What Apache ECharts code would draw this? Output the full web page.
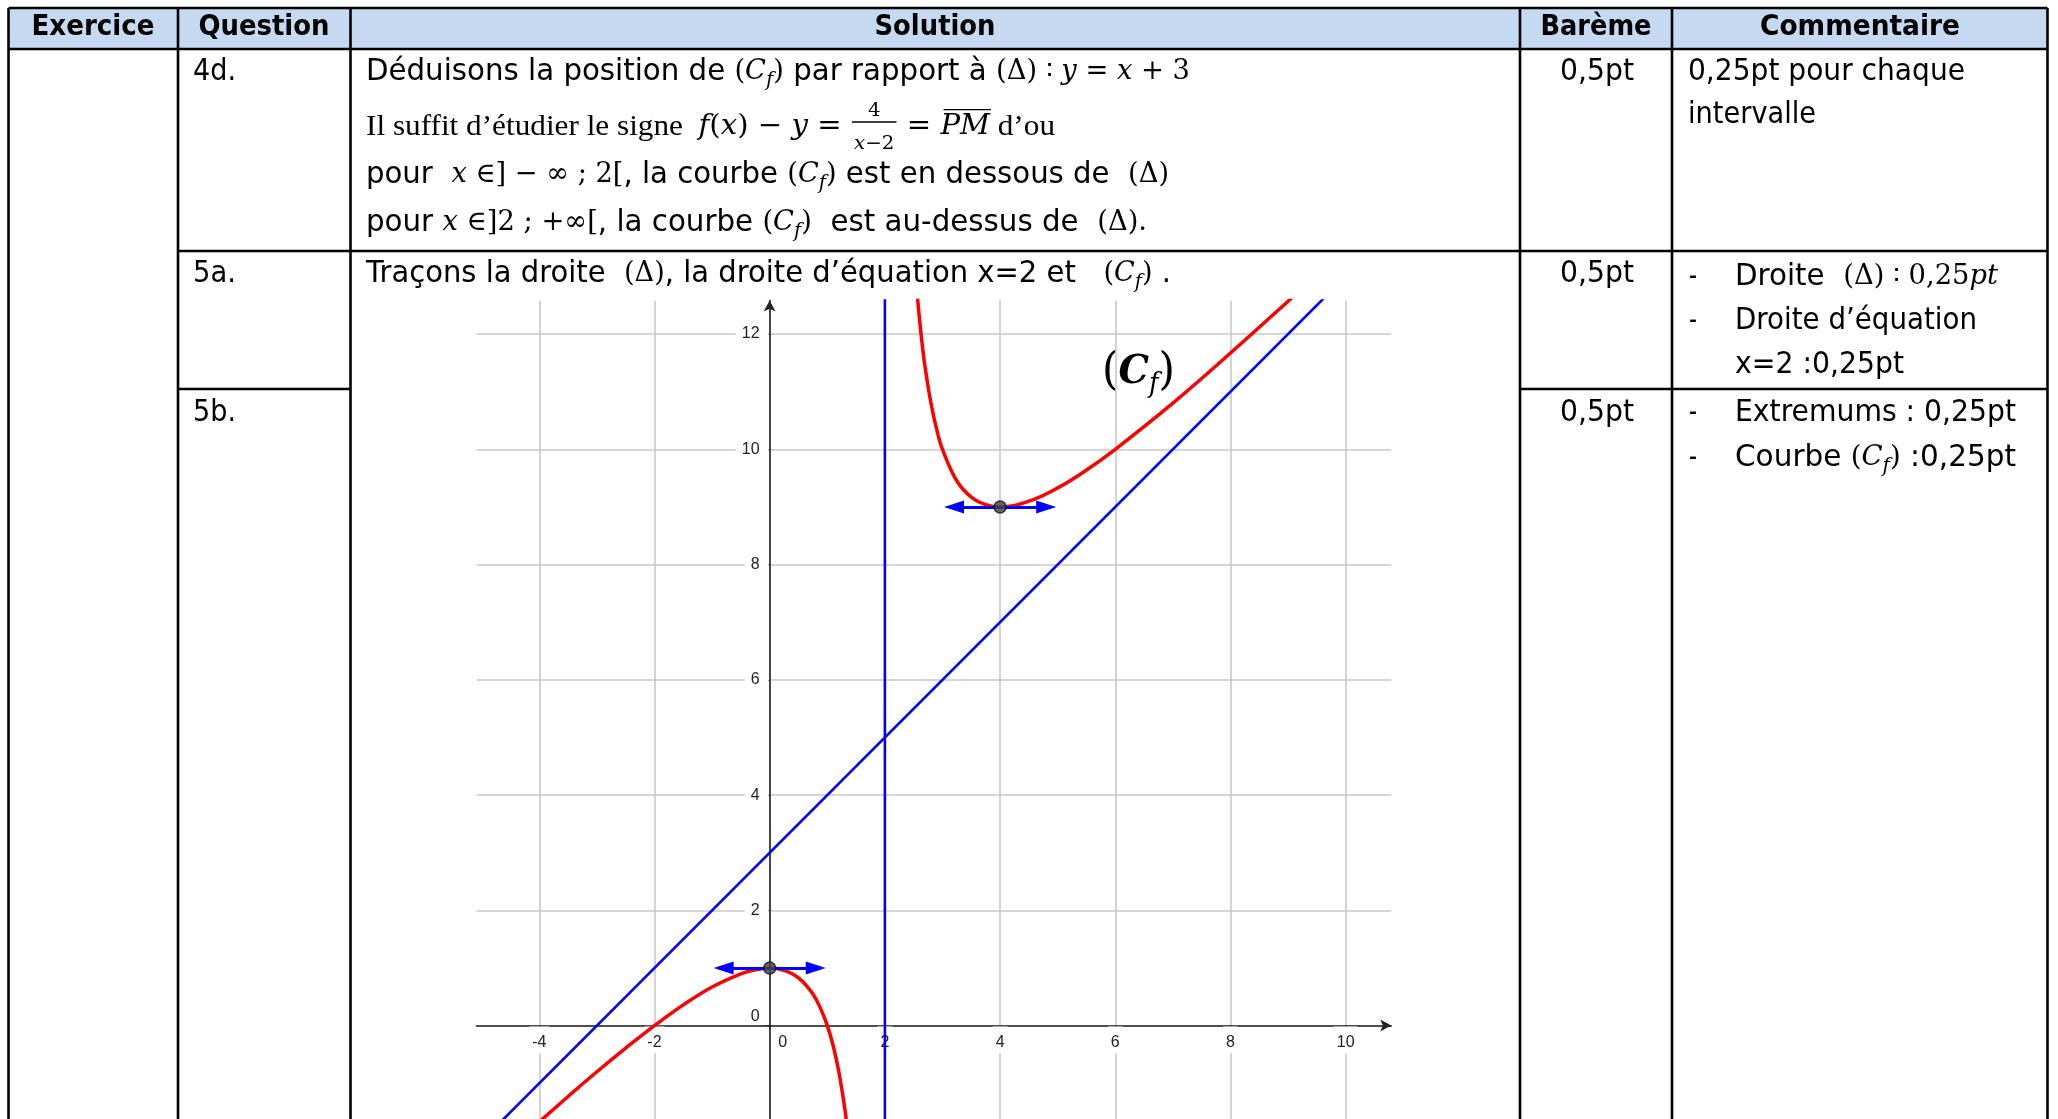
<!DOCTYPE html>
<html><head><meta charset="utf-8">
<script src="https://cdn.jsdelivr.net/npm/echarts/dist/echarts.min.js"></script>
<style>html,body{margin:0;padding:0;background:#fff}#c{width:2058px;height:1119px}</style>
</head><body><div id="c"></div>
<script>
// ---------- data ----------
const xTicks = [-4, -2, 0, 2, 4, 6, 8, 10];
const yTicks = [0, 2, 4, 6, 8, 10, 12];
const xRange = [-5.09, 10.79];
const yRange = [-1.62, 12.58];
// asymptote oblique (Δ) : y = x + 3
const deltaX = [-5, 10];
const deltaY = [-2, 13];
// asymptote verticale x = 2
const vertX = [2, 2];
const vertY = [-2, 13];
// courbe (Cf), branche gauche
const leftX = [-4, -3.5, -3, -2.5, -2, -1.5, -1, -0.5, -0.25, 0, 0.25, 0.5, 0.75, 0.9, 1, 1.1, 1.2, 1.3, 1.35];
const leftY = [-1.67, -1.23, -0.8, -0.39, 0, 0.36, 0.67, 0.9, 0.97, 1, 0.96, 0.83, 0.55, 0.26, 0, -0.34, -0.8, -1.41, -1.8];
// courbe (Cf), branche droite
const rightX = [2.5, 2.55, 2.6, 2.65, 2.7, 2.8, 2.9, 3, 3.25, 3.5, 3.75, 4, 4.5, 5, 5.5, 6, 7, 8, 9, 9.5];
const rightY = [13.5, 12.82, 12.27, 11.8, 11.41, 10.8, 10.34, 10, 9.45, 9.17, 9.04, 9, 9.1, 9.33, 9.64, 10, 10.8, 11.67, 12.57, 13.03];
// extremums and their horizontal tangents
const extX = [0, 4];
const extY = [1, 9];
const tangentHalf = [0.8, 0.8];

// ---------- text helpers ----------
const ctx = document.createElement('canvas').getContext('2d');
const SANS = '"DejaVu Sans"', MATHF = '"DejaVu Serif"', SERIF = '"Liberation Serif"';
function fstr(fam, size, it, bd) { return (it ? 'italic ' : '') + (bd ? 'bold ' : '') + size + 'px ' + fam; }
function meas(t, f) { ctx.font = f; return ctx.measureText(t).width; }
const BODY = 30;
function S(t) { return { t, fam: SANS }; }
function M(t) { return { t, fam: MATHF, k: 0.93 }; }
function MI(t, o) { return Object.assign({ t, fam: MATHF, it: true, k: 0.93 }, o || {}); }
function R(t) { return { t, fam: SERIF, k: 1.0 }; }
function SUB(t) { return { t, fam: MATHF, it: true, sub: true }; }
function CF() { return [M('('), MI('C'), SUB('f'), M(')')]; }

function buildLine(x, y, segs, targetW, base, opts) {
  opts = opts || {};
  base = base || BODY;
  let cx = 0; const kids = [];
  segs.flat().forEach(s => {
    if (s.frac) {
      const fs = s.size;
      const nf = fstr(MATHF, fs, false), nfi = fstr(MATHF, fs, true);
      const wn = meas(s.num, nf);
      const wd = meas('x', nfi) + meas('−2', nf);
      const w = Math.max(wn, wd) + 6;
      kids.push({ type: 'text', x: cx + w / 2 - wn / 2, y: -16, style: { text: s.num, font: nf, fill: '#000', align: 'left', verticalAlign: 'middle' } });
      kids.push({ type: 'line', shape: { x1: cx + 1, y1: -5, x2: cx + w - 1, y2: -5 }, style: { stroke: '#000', lineWidth: 1.4 } });
      const dx = cx + w / 2 - wd / 2;
      kids.push({ type: 'text', x: dx, y: 17, style: { text: 'x', font: nfi, fill: '#000', align: 'left', verticalAlign: 'middle' } });
      kids.push({ type: 'text', x: dx + meas('x', nfi), y: 17, style: { text: '−2', font: nf, fill: '#000', align: 'left', verticalAlign: 'middle' } });
      cx += w;
      return;
    }
    const size = s.sub ? Math.round(base * 0.68) : Math.round(base * (s.k || 1));
    const f = fstr(s.fam, size, s.it, s.bd || opts.bold);
    const w = meas(s.t, f);
    kids.push({ type: 'text', x: cx, y: s.sub ? base * 0.3 : 0, style: { text: s.t, font: f, fill: '#000', align: 'left', verticalAlign: 'middle' } });
    if (s.over) kids.push({ type: 'line', shape: { x1: cx + 3, y1: -size * 0.62, x2: cx + w + 1, y2: -size * 0.62 }, style: { stroke: '#000', lineWidth: 1.4 } });
    cx += w;
  });
  const sx = targetW ? targetW / cx : 1;
  const left = opts.center ? x - (targetW || cx) / 2 : x;
  return { type: 'group', x: left, y: y, scaleX: sx, silent: true, children: kids };
}

// ---------- table layout ----------
const LW = 2.6;
const colX = [8.5, 178, 350.5, 1520, 1672, 2047.5];
const rowTop = 8, headBot = 49, row5a = 251, row5b = 389, H = 1119;
const els = [];
els.push({ type: 'rect', shape: { x: colX[0], y: rowTop, width: colX[5] - colX[0], height: headBot - rowTop }, style: { fill: '#C5D9F1' }, silent: true });
function L(x1, y1, x2, y2) { els.push({ type: 'line', shape: { x1, y1, x2, y2 }, style: { stroke: '#000', lineWidth: LW }, silent: true, z: 10 }); }
colX.forEach(x => L(x, rowTop, x, H));
L(colX[0], rowTop, colX[5], rowTop);
L(colX[0], headBot, colX[5], headBot);
L(colX[1], row5a, colX[5], row5a);
L(colX[1], row5b, colX[2], row5b);
L(colX[3], row5b, colX[5], row5b);

// headers
const headers = [['Exercice', 93, 123], ['Question', 264, 131], ['Solution', 935, 121], ['Barème', 1596, 111], ['Commentaire', 1860, 200]];
headers.forEach(h => els.push(buildLine(h[1], 28, [S(h[0])], h[2], 28, { bold: true, center: true })));

// question labels
els.push(buildLine(193, 72, [S('4d.')], 43));
els.push(buildLine(193, 274, [S('5a.')], 43));
els.push(buildLine(193, 413, [S('5b.')], 43));

// solution 4d
els.push(buildLine(366, 72, [S('Déduisons la position de '), CF(), S(' par rapport à '), M('(Δ) ∶ '), MI('y'), M(' = '), MI('x'), M(' + 3')], 824));
els.push(buildLine(366, 127, [R('Il suffit d’étudier le signe  '), MI('f'), M('('), MI('x'), M(') − '), MI('y'), M(' = '), { frac: true, num: '4', size: 19 }, M(' = '), MI('PM', { over: true }), R(' d’ou')], 689));
els.push(buildLine(366, 175, [S('pour  '), MI('x'), M(' ∈] − ∞ ; 2['), S(', la courbe '), CF(), S(' est en dessous de  '), M('(Δ)')], 803));
els.push(buildLine(366, 223, [S('pour '), MI('x'), M(' ∈]2 ; +∞['), S(', la courbe '), CF(), S('  est au-dessus de  '), M('(Δ).')], 781));
// solution 5a
els.push(buildLine(366, 274, [S('Traçons la droite  '), M('(Δ)'), S(', la droite d’équation x=2 et   '), CF(), S(' .')], 805));

// barème
[72, 274, 413].forEach(y => els.push(buildLine(1597, y, [S('0,5pt')], 74, BODY, { center: true })));

// commentaires
els.push(buildLine(1688, 72, [S('0,25pt pour chaque')], 277));
els.push(buildLine(1688, 115, [S('intervalle')], 128));
[277, 321, 413, 458].forEach(y => els.push(buildLine(1689, y, [S('-')], 8)));
els.push(buildLine(1735, 277, [S('Droite  '), M('(Δ) ∶ 0,25'), MI('pt')], 263));
els.push(buildLine(1735, 321, [S('Droite d’équation')], 242));
els.push(buildLine(1735, 365, [S('x=2 :0,25pt')], 169));
els.push(buildLine(1735, 413, [S('Extremums : 0,25pt')], 281));
els.push(buildLine(1735, 458, [S('Courbe '), CF(), S(' :0,25pt')], 281));

// curve label in graph
els.push(buildLine(1102, 373, [{ t: '(', fam: MATHF, k: 1.1 }, { t: 'C', fam: MATHF, it: true, bd: true }, { t: 'f', fam: MATHF, it: true, sub: true }, { t: ')', fam: MATHF, k: 1.1 }], 73, 40));

// ---------- chart ----------
const pairs = (xs, ys) => xs.map((x, i) => [x, ys[i]]);
const isTick = v => Math.abs(v / 2 - Math.round(v / 2)) < 1e-6;
const labFont = { fontSize: 16, fontFamily: '"Liberation Sans"', color: '#222' };
// pixel frame of the plot (layout only)
const PL = 476.5, PT = 300.6, PW = 914.7, PH = 818.4;
const X0 = 769.6, Y0 = 1025.5;
const gridBase = { outerBoundsMode: 'none', containLabel: false };
const axisLineStyle = { onZero: false, lineStyle: { color: '#222', width: 1.6 }, symbol: ['none', 'arrow'], symbolSize: [9, 11] };
const hidden = { show: false, axisLine: { show: false }, axisTick: { show: false }, axisLabel: { show: false }, splitLine: { show: false } };

const chart = echarts.init(document.getElementById('c'));
chart.setOption({
  animation: false,
  backgroundColor: '#fff',
  grid: [
    Object.assign({ left: PL, top: PT, width: PW, height: PH }, gridBase),              // data grid
    Object.assign({ left: PL, top: PT, width: PW, height: Y0 - PT }, gridBase),         // x axis at y = 0
    Object.assign({ left: X0, top: PT, width: PL + PW - X0, height: PH }, gridBase)     // y axis at x = 0
  ],
  xAxis: [
    Object.assign({ type: 'value', gridIndex: 0, min: xRange[0], max: xRange[1] }, hidden),
    { type: 'value', gridIndex: 1, min: xRange[0], max: xRange[1], minInterval: 2, maxInterval: 2, z: 2, position: 'bottom',
      axisLine: axisLineStyle,
      axisTick: { show: true, length: 4, lineStyle: { color: '#222', width: 1 }, customValues: xTicks },
      axisLabel: {
        customValues: xTicks, margin: 1,
        formatter: v => Math.abs(v) < 1e-9 ? '{z|0}' : (isTick(v) ? '{n|' + v + '}' : ''),
        rich: { n: Object.assign({ backgroundColor: '#fff', padding: [8, 3, 3, 3] }, labFont), z: Object.assign({ padding: [8, 0, 0, 26] }, labFont) }
      },
      splitLine: { show: false } },
    Object.assign({ type: 'value', gridIndex: 2, min: 0, max: 1 }, hidden)
  ],
  yAxis: [
    Object.assign({ type: 'value', gridIndex: 0, min: yRange[0], max: yRange[1] }, hidden),
    Object.assign({ type: 'value', gridIndex: 1, min: 0, max: 1 }, hidden),
    { type: 'value', gridIndex: 2, min: yRange[0], max: yRange[1], minInterval: 2, maxInterval: 2, z: 2, position: 'left',
      axisLine: axisLineStyle,
      axisTick: { show: true, length: 4, lineStyle: { color: '#222', width: 1 }, customValues: yTicks },
      axisLabel: {
        customValues: yTicks, margin: 1,
        formatter: v => Math.abs(v) < 1e-9 ? '{z|0}' : (isTick(v) ? '{n|' + v + '}' : ''),
        rich: { n: Object.assign({ backgroundColor: '#fff', padding: [3, 9, 3, 6] }, labFont), z: Object.assign({ padding: [0, 9, 18, 0] }, labFont) }
      },
      splitLine: { show: false } }
  ],
  series: [
    { type: 'line', xAxisIndex: 0, yAxisIndex: 0, data: [], silent: true, z: 1,
      markLine: { silent: true, symbol: 'none', z: 1, animation: false, label: { show: false },
        lineStyle: { color: '#c9c9c9', width: 1.6, type: 'solid' },
        data: xTicks.map(v => ({ xAxis: v })).concat(yTicks.map(v => ({ yAxis: v }))) } },
    { type: 'line', xAxisIndex: 0, yAxisIndex: 0, data: pairs(deltaX, deltaY), showSymbol: false, silent: true, z: 3, lineStyle: { color: '#0000ff', width: 2.6 } },
    { type: 'line', xAxisIndex: 0, yAxisIndex: 0, data: pairs(vertX, vertY), showSymbol: false, silent: true, z: 3, lineStyle: { color: '#0000ff', width: 2.6 } },
    { type: 'line', xAxisIndex: 0, yAxisIndex: 0, data: pairs(leftX, leftY), smooth: 0.4, showSymbol: false, silent: true, z: 4, lineStyle: { color: '#ff0000', width: 3.5 } },
    { type: 'line', xAxisIndex: 0, yAxisIndex: 0, data: pairs(rightX, rightY), smooth: 0.4, showSymbol: false, silent: true, z: 4, lineStyle: { color: '#ff0000', width: 3.5 } },
    { type: 'line', xAxisIndex: 0, yAxisIndex: 0, data: [], silent: true, z: 5,
      markLine: { silent: true, z: 5, animation: false, symbol: ['triangle', 'triangle'], symbolSize: [13, 20], label: { show: false },
        lineStyle: { color: '#0000ff', width: 2.8, type: 'solid' },
        data: extX.map((x, i) => [{ coord: [x - tangentHalf[i], extY[i]] }, { coord: [x + tangentHalf[i], extY[i]] }]) } },
    { type: 'scatter', xAxisIndex: 0, yAxisIndex: 0, data: pairs(extX, extY), symbolSize: 12, silent: true, z: 6,
      itemStyle: { color: '#444', borderColor: '#111', borderWidth: 1.5 } }
  ],
  graphic: { elements: els }
});
</script></body></html>
